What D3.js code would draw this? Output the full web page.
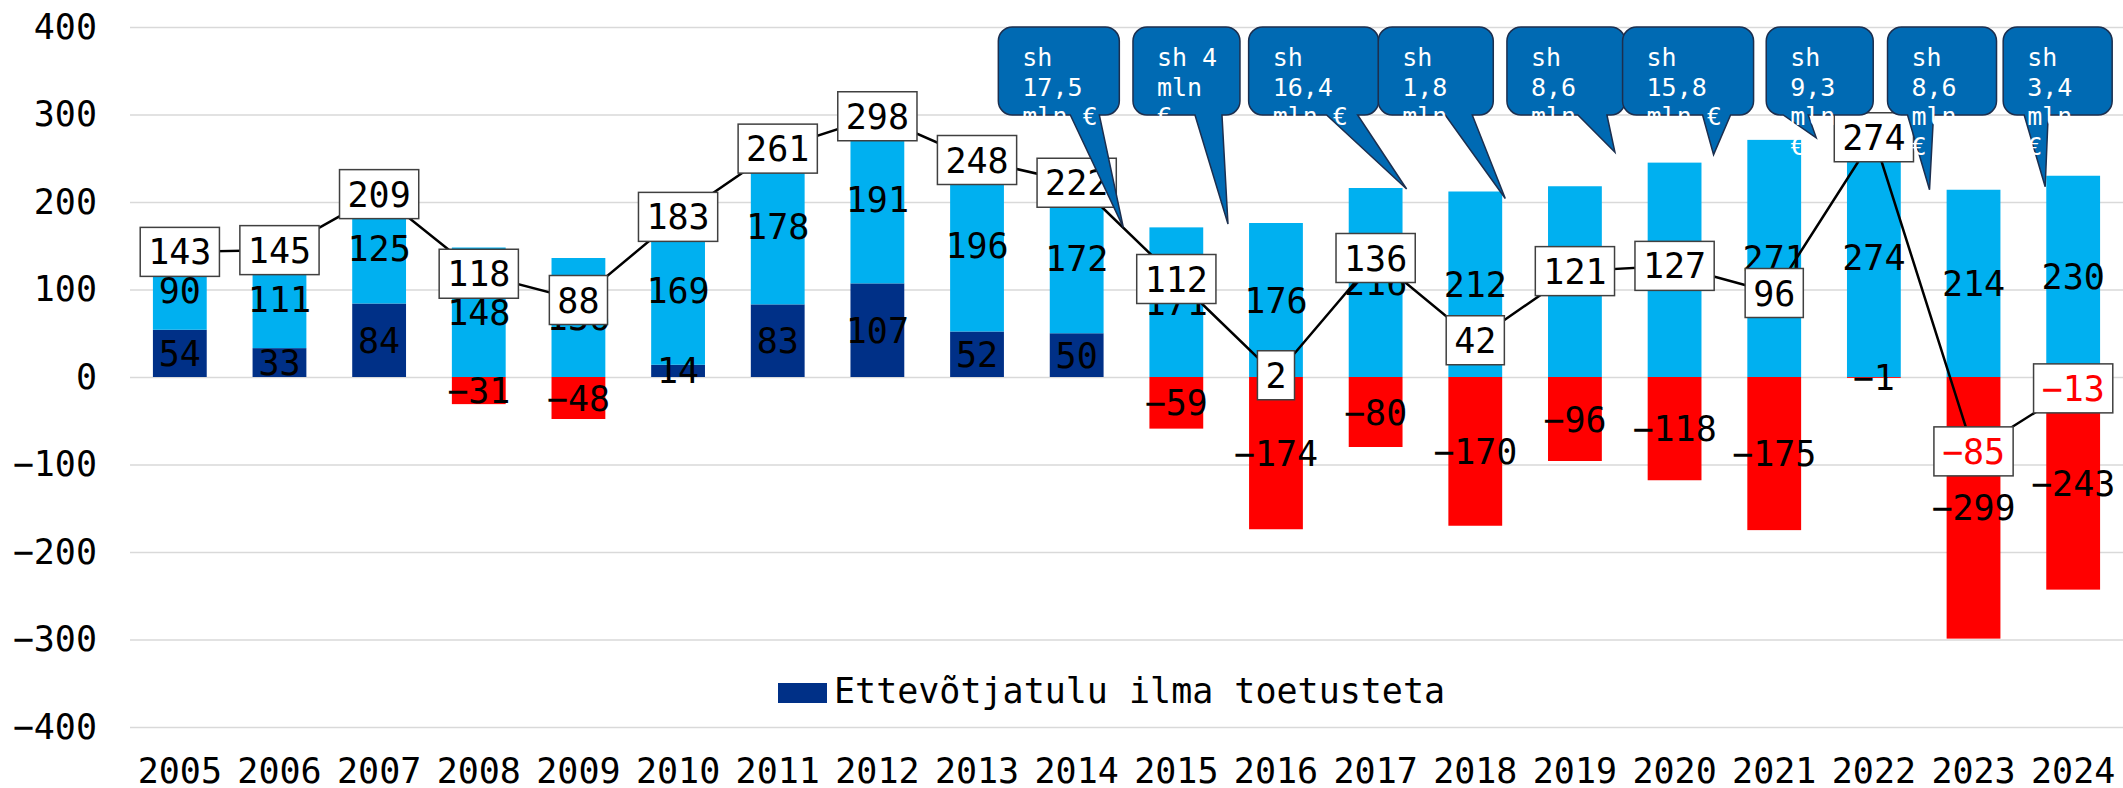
<!DOCTYPE html>
<html>
<head>
<meta charset="utf-8">
<script src="https://cdn.jsdelivr.net/npm/d3@7"></script>
<style>
  body { margin: 0; background: #fff; }
  text { font-family: "DejaVu Sans Mono", monospace; }
</style>
</head>
<body>
<script>
// data (mln €)
var years = ["2005","2006","2007","2008","2009","2010","2011","2012","2013","2014",
             "2015","2016","2017","2018","2019","2020","2021","2022","2023","2024"];
var ownIncome = [54, 33, 84, 0, 0, 14, 83, 107, 52, 50, 0, 0, 0, 0, 0, 0, 0, 0, 0, 0];
var subsidies = [90, 111, 125, 148, 136, 169, 178, 191, 196, 172, 171, 176, 216, 212, 218, 245, 271, 274, 214, 230];
var losses = [0, 0, 0, -31, -48, 0, 0, 0, 0, 0, -59, -174, -80, -170, -96, -118, -175, -1, -299, -243];
var totals = [143, 145, 209, 118, 88, 183, 261, 298, 248, 222, 112, 2, 136, 42, 121, 127, 96, 274, -85, -13];
var yTicks = [-400, -300, -200, -100, 0, 100, 200, 300, 400];
var legendLabel = "Ettevõtjatulu ilma toetusteta";

var calloutYears = ["2015","2016","2017","2018","2019","2020","2021","2023","2024"];
var calloutTexts = ["sh 17,5 mln €", "sh 4 mln €", "sh 16,4 mln €", "sh 1,8 mln €", "sh 8,6 mln €",
                    "sh 15,8 mln €", "sh 9,3 mln €", "sh 8,6 mln €", "sh 3,4 mln €"];

// callout placement relative to band centre / bar top: box left, box width, tail base, tip
var calloutLayout = [
  {bx: -178, bw: 121, t1: -106, t2: -77, tx: -53, ty: 0},
  {bx: -143, bw: 107, t1: -81, t2: -54, tx: -48, ty: 1},
  {bx: -127, bw: 130, t1: -49, t2: -18, tx: 31, ty: 1},
  {bx: -97, bw: 115, t1: -30, t2: -3, tx: 30, ty: 7},
  {bx: -68, bw: 118, t1: 3, t2: 32, tx: 40, ty: -34},
  {bx: -52, bw: 131, t1: 28, t2: 56, tx: 39, ty: -8},
  {bx: -8, bw: 107, t1: 9, t2: 34, tx: 42, ty: -2},
  {bx: -86, bw: 109, t1: -66, t2: -40, tx: -44, ty: 0},
  {bx: -70, bw: 109, t1: -49, t2: -25, tx: -28, ty: 11}
];

var W = 2123, H = 788;
var plotLeft = 130, plotRight = 2123;
var fmt = function(v) { return d3.format("d")(v); };   // uses the proper minus sign

var svg = d3.select("body").append("svg")
    .attr("width", W)
    .attr("height", H);

var x = d3.scaleBand()
    .domain(years)
    .range([plotLeft, plotRight])
    .paddingInner(0.46)
    .paddingOuter(0.23);

var y = d3.scaleLinear()
    .domain([-400, 400])
    .range([727, 27]);

// grid + y labels
var yAxis = d3.axisLeft(y)
    .tickValues(yTicks)
    .tickSize(-(plotRight - plotLeft))
    .tickPadding(33)
    .tickFormat(fmt);

var gy = svg.append("g")
    .attr("transform", "translate(" + plotLeft + ",0)")
    .call(yAxis);
gy.select(".domain").remove();
gy.selectAll("line").attr("stroke", "#d9d9d9").attr("stroke-width", 1.5);
gy.selectAll("text").attr("font-size", 35).attr("fill", "#000")
    .style("font-family", "DejaVu Sans Mono");

// x labels
var xAxis = d3.axisBottom(x).tickSize(0).tickPadding(31);
var gx = svg.append("g")
    .attr("transform", "translate(0," + y(-400) + ")")
    .call(xAxis);
gx.select(".domain").remove();
gx.selectAll("text").attr("font-size", 35).attr("fill", "#000")
    .style("font-family", "DejaVu Sans Mono");

// segments
var segs = [];
years.forEach(function(yr, i) {
  segs.push({year: yr, y0: 0, y1: ownIncome[i], v: ownIncome[i], color: "#003087"});
  segs.push({year: yr, y0: ownIncome[i], y1: ownIncome[i] + subsidies[i], v: subsidies[i], color: "#00b0f0"});
  segs.push({year: yr, y0: 0, y1: losses[i], v: losses[i], color: "#ff0000"});
});
segs = segs.filter(function(d) { return d.v !== 0; });

svg.append("g").selectAll("rect")
    .data(segs)
  .enter().append("rect")
    .attr("x", function(d) { return x(d.year); })
    .attr("width", x.bandwidth())
    .attr("y", function(d) { return y(Math.max(d.y0, d.y1)); })
    .attr("height", function(d) { return Math.abs(y(d.y0) - y(d.y1)); })
    .attr("fill", function(d) { return d.color; });

svg.append("g").selectAll("text")
    .data(segs)
  .enter().append("text")
    .attr("x", function(d) { return x(d.year) + x.bandwidth() / 2; })
    .attr("y", function(d) { return y((d.y0 + d.y1) / 2); })
    .attr("dy", "0.36em")
    .attr("text-anchor", "middle")
    .attr("font-size", 35)
    .attr("fill", "#000")
    .text(function(d) { return fmt(d.v); });

// total line
var cx = function(yr) { return x(yr) + x.bandwidth() / 2; };
var line = d3.line()
    .x(function(d, i) { return cx(years[i]); })
    .y(function(d) { return y(d); });

svg.append("path")
    .datum(totals)
    .attr("d", line)
    .attr("fill", "none")
    .attr("stroke", "#000")
    .attr("stroke-width", 2.5);

var lbl = svg.append("g").selectAll("g")
    .data(totals)
  .enter().append("g")
    .attr("transform", function(d, i) { return "translate(" + cx(years[i]) + "," + y(d) + ")"; });

lbl.append("text")
    .attr("text-anchor", "middle")
    .attr("dy", "0.36em")
    .attr("font-size", 35)
    .attr("fill", function(d) { return d < 0 ? "#ff0000" : "#000"; })
    .text(function(d) { return fmt(d); });

lbl.each(function() {
  var g = d3.select(this);
  var w = g.select("text").node().getComputedTextLength();
  g.insert("rect", "text")
      .attr("x", -w / 2 - 8)
      .attr("y", -24.5)
      .attr("width", w + 16)
      .attr("height", 49)
      .attr("fill", "#fff")
      .attr("stroke", "#404040")
      .attr("stroke-width", 1.5);
});

// legend
var leg = svg.append("g").attr("transform", "translate(778,683)");
leg.append("rect").attr("width", 49).attr("height", 20).attr("fill", "#003087");
leg.append("text")
    .attr("x", 56)
    .attr("y", 20)
    .attr("font-size", 35)
    .attr("fill", "#000")
    .text(legendLabel);

// callouts
var boxTop = 27, boxBottom = 115, r = 14;

calloutYears.forEach(function(yr, k) {
  var L = calloutLayout[k];
  var i = years.indexOf(yr);
  var c = cx(yr);
  var topY = y(ownIncome[i] + subsidies[i]);
  var x0 = c + L.bx, x1 = x0 + L.bw;
  var b1 = c + L.t1, b2 = c + L.t2;
  var tx = c + L.tx, ty = topY + L.ty;

  var p = d3.path();
  p.moveTo(x0 + r, boxTop);
  p.lineTo(x1 - r, boxTop);
  p.arcTo(x1, boxTop, x1, boxTop + r, r);
  p.lineTo(x1, boxBottom - r);
  p.arcTo(x1, boxBottom, x1 - r, boxBottom, r);
  p.lineTo(b2, boxBottom);
  p.lineTo(tx, ty);
  p.lineTo(b1, boxBottom);
  p.lineTo(x0 + r, boxBottom);
  p.arcTo(x0, boxBottom, x0, boxBottom - r, r);
  p.lineTo(x0, boxTop + r);
  p.arcTo(x0, boxTop, x0 + r, boxTop, r);
  p.closePath();

  var g = svg.append("g");
  g.append("path")
      .attr("d", p.toString())
      .attr("fill", "#006ab3")
      .attr("stroke", "#1c2f4f")
      .attr("stroke-width", 1.5);

  // word wrap inside the box
  var t = g.append("text")
      .attr("font-size", 25)
      .attr("fill", "#fff");
  var maxW = L.bw - 44;
  var words = calloutTexts[k].split(" ");
  var lines = [], cur = "";
  var probe = t.append("tspan");
  words.forEach(function(wd) {
    var test = cur ? cur + " " + wd : wd;
    probe.text(test);
    if (probe.node().getComputedTextLength() > maxW && cur) {
      lines.push(cur);
      cur = wd;
    } else {
      cur = test;
    }
  });
  lines.push(cur);
  probe.remove();
  lines.forEach(function(s, j) {
    t.append("tspan")
        .attr("x", x0 + 24)
        .attr("y", boxTop + 39 + j * 29.5)
        .text(s);
  });
});
</script>
</body>
</html>
